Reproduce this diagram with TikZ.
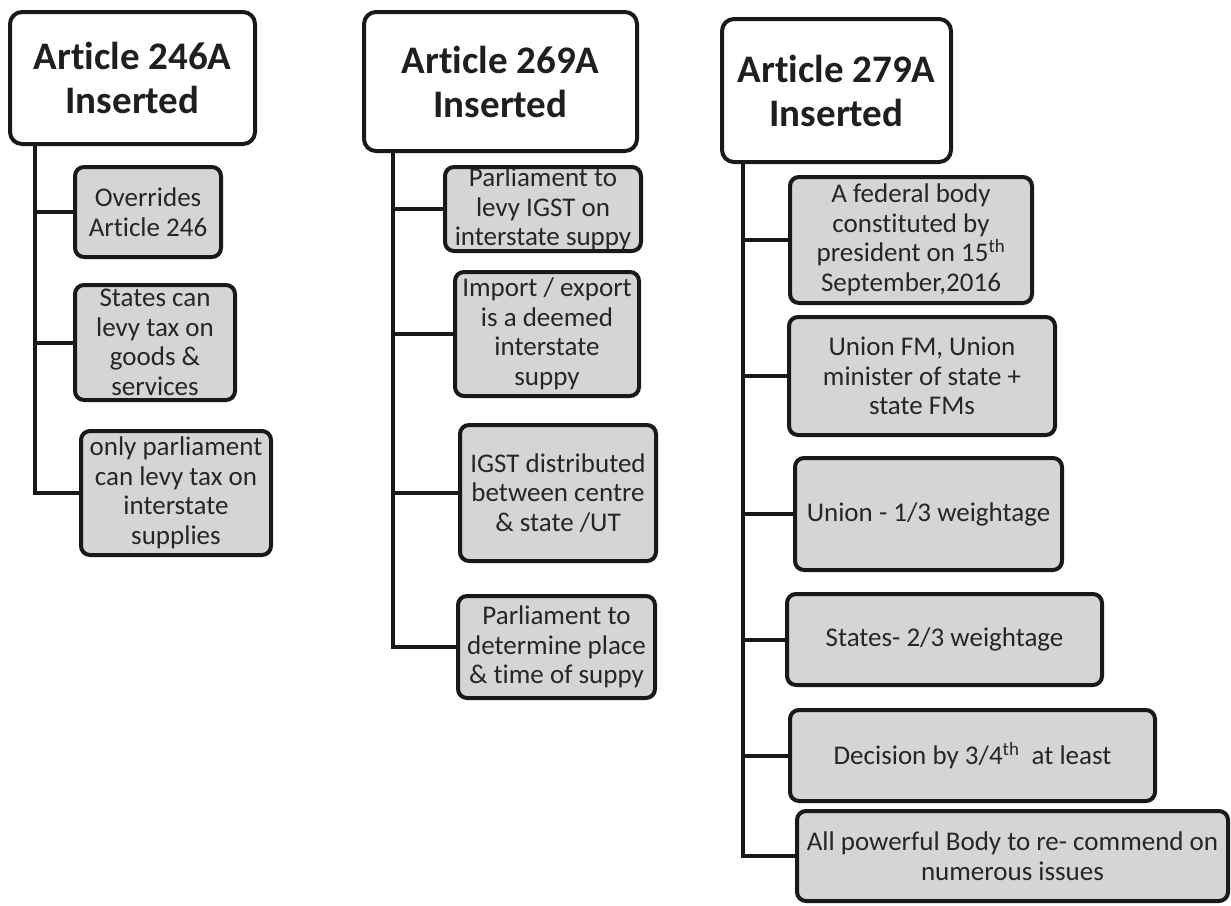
\documentclass[tikz,border=0pt]{standalone}
\usepackage{fontspec}
\setmainfont{Carlito}[Ligatures=NoCommon]
\begin{document}
\begin{tikzpicture}[x=1pt,y=-1pt,
  head/.style={draw=black!90, line width=4pt, rounded corners=12pt, fill=white, inner sep=0pt, align=center,
    font=\fontsize{39}{44}\selectfont\bfseries, text=black!88},
  item/.style={draw=black!90, line width=4pt, rounded corners=9pt, fill=boxgray, inner sep=0pt, align=center,
    font=\fontsize{27}{29.5}\selectfont, text=black!85},
  conn/.style={draw=black!90, line width=4pt}]
\definecolor{boxgray}{HTML}{D4D5D7}
\useasboundingbox (0,0) rectangle (1231,905);
% column 1
\node[head, minimum width=245pt, minimum height=132pt] (h1) at (132.5,78) {Article 246A\\Inserted};
\node[item, minimum width=146pt, minimum height=90pt] (b11) at (148,212) {Overrides\\Article 246};
\node[item, minimum width=160pt, minimum height=115pt] (b12) at (155,342.5) {States can\\levy tax on\\goods \&\\services};
\node[item, minimum width=190pt, minimum height=124pt] (b13) at (176,493) {only parliament\\can levy tax on\\interstate\\supplies};
\coordinate (t1) at (35,146);
\draw[conn] (t1) |- (b13.west);
\draw[conn] (t1) |- (b12.west);
\draw[conn] (t1) |- (b11.west);
% column 2
\node[head, minimum width=273pt, minimum height=139pt] (h2) at (500.5,81.5) {Article 269A\\Inserted};
\node[item, minimum width=196pt, minimum height=84pt] (b21) at (543,209) {Parliament to\\levy IGST on\\interstate suppy};
\node[item, minimum width=184pt, minimum height=124pt] (b22) at (547,334) {Import / export\\is a deemed\\interstate\\suppy};
\node[item, minimum width=196pt, minimum height=136pt] (b23) at (558,493) {IGST distributed\\between centre\\\& state /UT};
\node[item, minimum width=197pt, minimum height=102pt] (b24) at (556.5,647) {Parliament to\\determine place\\\& time of suppy};
\coordinate (t2) at (393,153);
\draw[conn] (t2) |- (b24.west);
\draw[conn] (t2) |- (b23.west);
\draw[conn] (t2) |- (b22.west);
\draw[conn] (t2) |- (b21.west);
% column 3
\node[head, minimum width=229pt, minimum height=143pt] (h3) at (836.5,90.5) {Article 279A\\Inserted};
\node[item, minimum width=242pt, minimum height=126pt] (b31) at (911,240) {A federal body\\constituted by\\president on 15\textsuperscript{th}\\September,2016};
\node[item, minimum width=266pt, minimum height=118pt] (b32) at (922,376) {Union FM, Union\\minister of state +\\state FMs};
\node[item, minimum width=267pt, minimum height=112pt] (b33) at (928.5,514) {Union - 1/3 weightage};
\node[item, minimum width=315pt, minimum height=91pt] (b34) at (944.5,639.5) {States- 2/3 weightage};
\node[item, minimum width=365pt, minimum height=91pt] (b35) at (972.5,755.5) {Decision by 3/4\textsuperscript{th}\ \ at least};
\node[item, minimum width=431pt, minimum height=90pt] (b36) at (1012.5,856) {All powerful Body to re- commend on\\numerous issues};
\coordinate (t3) at (743,164);
\draw[conn] (t3) |- (b36.west);
\draw[conn] (t3) |- (b35.west);
\draw[conn] (t3) |- (b34.west);
\draw[conn] (t3) |- (b33.west);
\draw[conn] (t3) |- (b32.west);
\draw[conn] (t3) |- (b31.west);
\end{tikzpicture}
\end{document}
